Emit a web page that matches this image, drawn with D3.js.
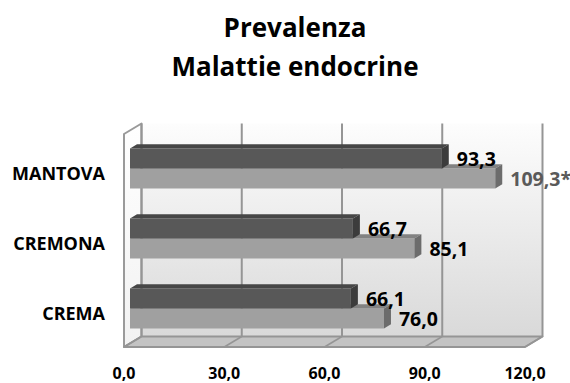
<!DOCTYPE html>
<html>
<head>
<meta charset="utf-8">
<script src="https://cdn.jsdelivr.net/npm/d3@7"></script>
<style>
  html, body { margin: 0; padding: 0; background: #ffffff; }
  svg { display: block; }
  text { font-family: "Open Sans", "Liberation Sans", sans-serif; font-weight: bold; }
</style>
</head>
<body>
<svg id="chart" width="570" height="383"></svg>
<script>
// ---- data ----
const categories = ["MANTOVA", "CREMONA", "CREMA"];
const seriesNames = ["serieA", "serieB"];
const valuesA = [93.3, 66.7, 66.1];
const valuesB = [109.3, 85.1, 76.0];
const markB = ["*", "", ""];
const tickValues = [0, 30, 60, 90, 120];
const titleLines = ["Prevalenza", "Malattie endocrine"];

// ---- layout ----
const svg = d3.select("#chart");
const depth = { dx: 17.5, dy: -10.5 };      // full depth of the plot box
const barFront = 0.343, barDepth = 0.4;      // bar position inside the box
const wallTop = 134, floorY = 347;

const x = d3.scaleLinear().domain([0, 120]).range([124, 525]);
const y0 = d3.scaleBand().domain(categories).range([137, 347]).padding(0);
const y1 = d3.scaleBand().domain(seriesNames)
  .range([y0.bandwidth() / 2 - 20, y0.bandwidth() / 2 + 20]);

const fmt = v => d3.format(".1f")(v).replace(".", ",");
const P = (px, py, d) => [px + d * depth.dx, py + d * depth.dy];
const poly = pts => "M" + pts.map(p => p.join(",")).join("L") + "Z";

const defs = svg.append("defs");
const gBack = defs.append("linearGradient").attr("id", "gBack")
  .attr("x1", 0).attr("y1", 0).attr("x2", 0).attr("y2", 1);
gBack.append("stop").attr("offset", "0%").attr("stop-color", "#fdfdfd");
gBack.append("stop").attr("offset", "100%").attr("stop-color", "#d9d9d9");
const gLeft = defs.append("linearGradient").attr("id", "gLeft")
  .attr("x1", 0).attr("y1", 0).attr("x2", 0).attr("y2", 1);
gLeft.append("stop").attr("offset", "0%").attr("stop-color", "#ffffff");
gLeft.append("stop").attr("offset", "100%").attr("stop-color", "#f2f2f2");

// ---- title ----
svg.append("g").selectAll("text").data(titleLines).join("text")
  .attr("x", 295).attr("y", (d, i) => 37 + i * 38.5)
  .attr("text-anchor", "middle")
  .attr("font-size", 26).attr("fill", "#000")
  .text(d => d);

// ---- walls ----
const [x0, x1] = x.domain().map(x);
svg.append("path")
  .attr("d", poly([P(x0, wallTop, 1), P(x1, wallTop, 1), P(x1, floorY, 1), P(x0, floorY, 1)]))
  .attr("fill", "url(#gBack)");
svg.append("path")
  .attr("d", poly([P(x0, wallTop, 0), P(x0, wallTop, 1), P(x0, floorY, 1), P(x0, floorY, 0)]))
  .attr("fill", "url(#gLeft)")
  .attr("stroke", "#9a9a9a").attr("stroke-width", 2).attr("stroke-linejoin", "round");
svg.append("path")
  .attr("d", poly([P(x0, floorY, 0), P(x1, floorY, 0), P(x1, floorY, 1), P(x0, floorY, 1)]))
  .attr("fill", "#c3c3c3")
  .attr("stroke", "#959595").attr("stroke-width", 2).attr("stroke-linejoin", "round");

svg.append("g").selectAll("line").data(tickValues).join("line")
  .attr("x1", d => P(x(d), wallTop, 1)[0]).attr("y1", d => P(x(d), wallTop, 1)[1])
  .attr("x2", d => P(x(d), floorY, 1)[0]).attr("y2", d => P(x(d), floorY, 1)[1])
  .attr("stroke", "#959595").attr("stroke-width", 2);
svg.append("g").selectAll("line").data(tickValues).join("line")
  .attr("x1", d => P(x(d), floorY, 1)[0]).attr("y1", d => P(x(d), floorY, 1)[1])
  .attr("x2", d => P(x(d), floorY, 0)[0]).attr("y2", d => P(x(d), floorY, 0)[1])
  .attr("stroke", "#959595").attr("stroke-width", 1.5);

// ---- bars ----
const rows = [];
categories.forEach((c, i) => {
  rows.push({ cat: c, s: "serieB", v: valuesB[i], label: fmt(valuesB[i]) + markB[i],
              front: "#a0a0a0", top: "#828282", side: "#6c6c6c",
              lc: markB[i] ? "#5a5a5a" : "#000" });
  rows.push({ cat: c, s: "serieA", v: valuesA[i], label: fmt(valuesA[i]),
              front: "#585858", top: "#464646", side: "#3c3c3c", lc: "#000" });
});
rows.sort((a, b) => (y0(b.cat) + y1(b.s)) - (y0(a.cat) + y1(a.s)));

const bars = svg.append("g");
rows.forEach(r => {
  const yt = y0(r.cat) + y1(r.s), yb = yt + y1.bandwidth();
  const xa = x(0), xb = x(r.v);
  const f0 = barFront, f1 = barFront + barDepth;
  const g = bars.append("g");
  g.append("path").attr("d", poly([P(xa, yt, f0), P(xb, yt, f0), P(xb, yb, f0), P(xa, yb, f0)]))
    .attr("fill", r.front);
  g.append("path").attr("d", poly([P(xa, yt, f0), P(xb, yt, f0), P(xb, yt, f1), P(xa, yt, f1)]))
    .attr("fill", r.top);
  g.append("path").attr("d", poly([P(xb, yt, f0), P(xb, yt, f1), P(xb, yb, f1), P(xb, yb, f0)]))
    .attr("fill", r.side);
});

// value labels
rows.forEach(r => {
  const yc = y0(r.cat) + y1(r.s) + y1.bandwidth() / 2;
  const [lx, ly] = P(x(r.v), yc, barFront + barDepth);
  svg.append("text")
    .attr("x", lx + 8).attr("y", ly + 5)
    .attr("dy", "0.35em")
    .attr("font-size", 19.5).attr("fill", r.lc)
    .text(r.label);
});

// ---- category labels ----
svg.append("g").selectAll("text").data(categories).join("text")
  .attr("x", 105).attr("y", d => y0(d) + y0.bandwidth() / 2 + 1.5)
  .attr("dy", "0.35em").attr("text-anchor", "end")
  .attr("font-size", 18).attr("fill", "#000")
  .text(d => d);

// ---- value axis tick labels ----
svg.append("g").selectAll("text").data(tickValues).join("text")
  .attr("x", d => x(d)).attr("y", 379)
  .attr("text-anchor", "middle")
  .attr("font-size", 16).attr("fill", "#000")
  .text(d => fmt(d));
</script>
</body>
</html>
